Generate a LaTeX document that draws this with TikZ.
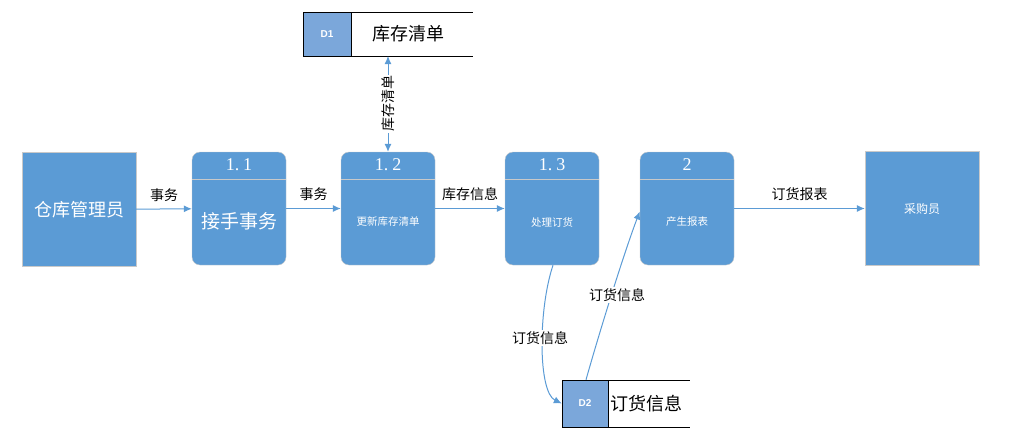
\documentclass[tikz,border=0pt]{standalone}
\usepackage{fontspec}
\setmainfont{Liberation Serif}
\newfontfamily\cjk{Noto Sans CJK SC}
\newfontfamily\lsans{Liberation Sans}
\usepackage{xcolor}
\usetikzlibrary{shapes,arrows.meta,positioning}
\definecolor{procblue}{HTML}{5B9BD5}
\definecolor{storeblue}{HTML}{7BA7DA}
\definecolor{edgegray}{HTML}{C9C9C9}

\begin{document}
\begin{tikzpicture}[x=1pt,y=-1pt,
    entity/.style={draw=edgegray, fill=procblue, text=white, minimum width=114pt, minimum height=114pt, inner sep=0pt},
    proc/.style={draw=edgegray, fill=procblue, rounded corners=8pt, minimum width=94pt, minimum height=113pt, inner sep=0pt},
    hdr/.style={text=white, font=\fontsize{18}{18}\selectfont},
    body/.style={text=white, font=\cjk\fontsize{10.5}{11}\selectfont},
    dsid/.style={draw=black, fill=storeblue, text=white, font=\lsans\bfseries\fontsize{10}{10}\selectfont, minimum height=44pt, inner sep=0pt},
    dstext/.style={font=\cjk\fontsize{18}{18}\selectfont, anchor=west, inner sep=0pt},
    flow/.style={draw=procblue, line width=1pt, -{Latex[length=8pt,width=7pt]}},
    lbl/.style={font=\cjk\fontsize{14}{14}\selectfont, inner sep=1pt}]
    \useasboundingbox (0,0) rectangle (1020,445);
    \def\hdry{27pt}

    % external entities
    \node[entity, font=\cjk\fontsize{18}{18}\selectfont] (mgr) at (79,209.5) {仓库管理员};
    \node[entity, font=\cjk\fontsize{12}{12}\selectfont] (buyer) at (922,208.5) {采购员};

    % processes
    \node[proc] (p11) at (239,208.5) {};
    \node[proc] (p12) at (388,208.5) {};
    \node[proc] (p13) at (552,208.5) {};
    \node[proc] (p2) at (687,208.5) {};
    \foreach \p/\a/\b in {p11/1/1, p12/1/2, p13/1/3} {
        \draw[edgegray] ([yshift=-\hdry]\p.north west) -- ([yshift=-\hdry]\p.north east);
        \node[hdr] (\p-id) at ([yshift=-13pt]\p.north) {\a.\hspace{4pt}\b};
    }
    \draw[edgegray] ([yshift=-\hdry]p2.north west) -- ([yshift=-\hdry]p2.north east);
    \node[hdr] (p2-id) at ([yshift=-13pt]p2.north) {2};
    \node[text=white, font=\cjk\fontsize{19}{19}\selectfont] (p11-txt) at (239,221) {接手事务};
    \node[body] (p12-txt) at (388,222) {更新库存清单};
    \node[body] (p13-txt) at (552,222) {处理订货};
    \node[body] (p2-txt) at (687,222) {产生报表};

    % data stores
    \node[dsid, minimum width=48pt] (d1) at (327,34) {D1};
    \draw (d1.north east) -- ++(122,0);
    \draw (d1.south east) -- ++(122,0);
    \node[dstext] (d1-txt) at (372,34) {库存清单};
    \coordinate (d1b) at (388,56);

    \node[dsid, minimum width=46pt, minimum height=47pt] (d2) at (585,403.5) {D2};
    \draw (d2.north east) -- ++(82,0);
    \draw (d2.south east) -- ++(82,0);
    \node[dstext] (d2-txt) at (610,403.5) {订货信息};

    % data flows
    \draw[flow] (mgr) -- node[lbl, above=6pt] (f1) {事务} (p11);
    \draw[flow] (p11) -- node[lbl, above=6pt] (f2) {事务} (p12);
    \draw[flow] (p12) -- node[lbl, above=6pt] (f3) {库存信息} (p13);
    \draw[flow] (p2) -- node[lbl, above=6pt] (f4) {订货报表} (buyer);
    \draw[flow, {Latex[length=8pt,width=7pt]}-{Latex[length=8pt,width=7pt]}] (p12.north) -- node[lbl, fill=white, rotate=90] (f5) {库存清单} (d1b);
    \draw[flow] ([xshift=1pt]p13.south) .. controls (538,310) and (538,392) .. (d2.west);
    \node[lbl, fill=white] (f6) at (540,338) {订货信息};
    \draw[flow] ([xshift=1pt]d2.north) .. controls (600,330) and (625,250) .. ([yshift=-3pt]p2.west);
    \node[lbl, fill=white] (f7) at (617,295) {订货信息};
\end{tikzpicture}
\end{document}
